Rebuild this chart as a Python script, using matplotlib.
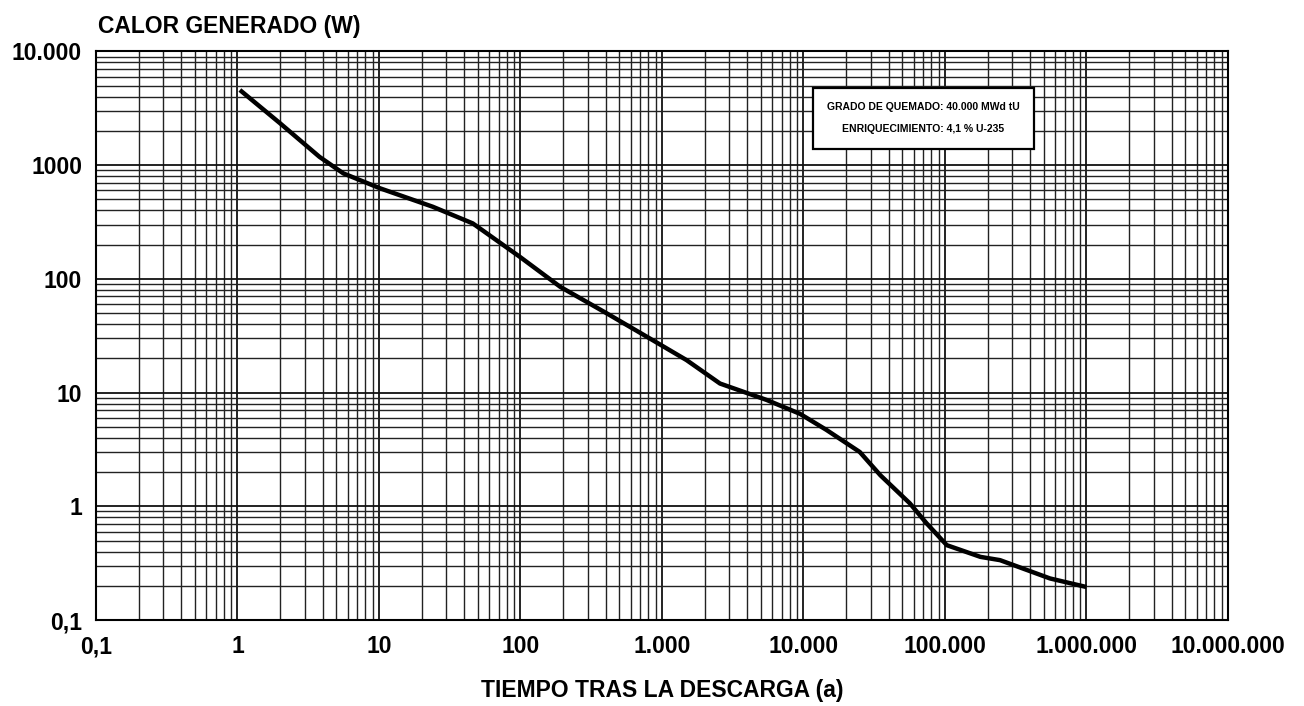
import matplotlib
matplotlib.use("Agg")
import matplotlib.pyplot as plt
import numpy as np

plt.rcParams['font.family'] = ['Liberation Sans', 'DejaVu Sans']

# curva (tiempo en años, calor en W)
tiempo = [1.04, 2.0, 3.8, 5.6, 10.2, 24, 46, 99, 191, 407, 780, 1490, 2570,
          5500, 9440, 14500, 25000, 35000, 56500, 74000, 103000, 178000,
          245000, 552000, 1000000]
calor = [4570, 2330, 1180, 845, 624, 430, 307, 156, 85, 49.7, 31, 19.3, 12.0,
         8.6, 6.5, 4.7, 3.0, 1.87, 1.06, 0.71, 0.455, 0.359,
         0.336, 0.232, 0.195]

xticks = [0.1, 1, 10, 100, 1e3, 1e4, 1e5, 1e6, 1e7]
xlabels = ["0,1", "1", "10", "100", "1.000", "10.000", "100.000",
           "1.000.000", "10.000.000"]
yticks = [0.1, 1, 10, 100, 1000, 10000]
ylabels = ["0,1", "1", "10", "100", "1000", "10.000"]

fig = plt.figure(figsize=(13.04, 7.06), dpi=100)
ax = fig.add_axes([0.0736, 0.1218, 0.8681, 0.8055])

ax.set_xscale("log")
ax.set_yscale("log")
ax.set_xlim(0.1, 1e7)
ax.set_ylim(0.1, 10000)

ax.grid(True, which="major", color="#111111", lw=1.3)
ax.grid(True, which="minor", color="#222222", lw=1.0)
ax.set_axisbelow(True)

ax.plot(tiempo, calor, color="black", lw=3.2, solid_capstyle="butt",
        solid_joinstyle="round", zorder=5)

ax.set_xticks(xticks)
ax.set_xticklabels(xlabels)
ax.set_yticks(yticks)
ax.set_yticklabels(ylabels)
ax.tick_params(which="both", length=0)
ax.tick_params(axis="x", pad=11, labelsize=16.5)
ax.tick_params(axis="y", pad=10, labelsize=16.5)
for t in ax.get_xticklabels() + ax.get_yticklabels():
    t.set_fontweight("bold")

for s in ax.spines.values():
    s.set_linewidth(1.5)

fig.text(0.0752, 0.962, "CALOR GENERADO (W)", fontsize=16.5, fontweight="bold",
         ha="left", va="center")
fig.text(0.508, 0.022, "TIEMPO TRAS LA DESCARGA (a)", fontsize=16.5,
         fontweight="bold", ha="center", va="center")

# recuadro de la leyenda
ax.text(0.731, 0.882, "GRADO DE QUEMADO: 40.000 MWd tU\nENRIQUECIMIENTO: 4,1 % U-235",
        transform=ax.transAxes, fontsize=7.5, fontweight="bold", ha="center",
        va="center", linespacing=2.5, zorder=10,
        bbox=dict(boxstyle="square,pad=1.4", fc="white", ec="black", lw=1.6))

fig.savefig("out.png", dpi=100)
